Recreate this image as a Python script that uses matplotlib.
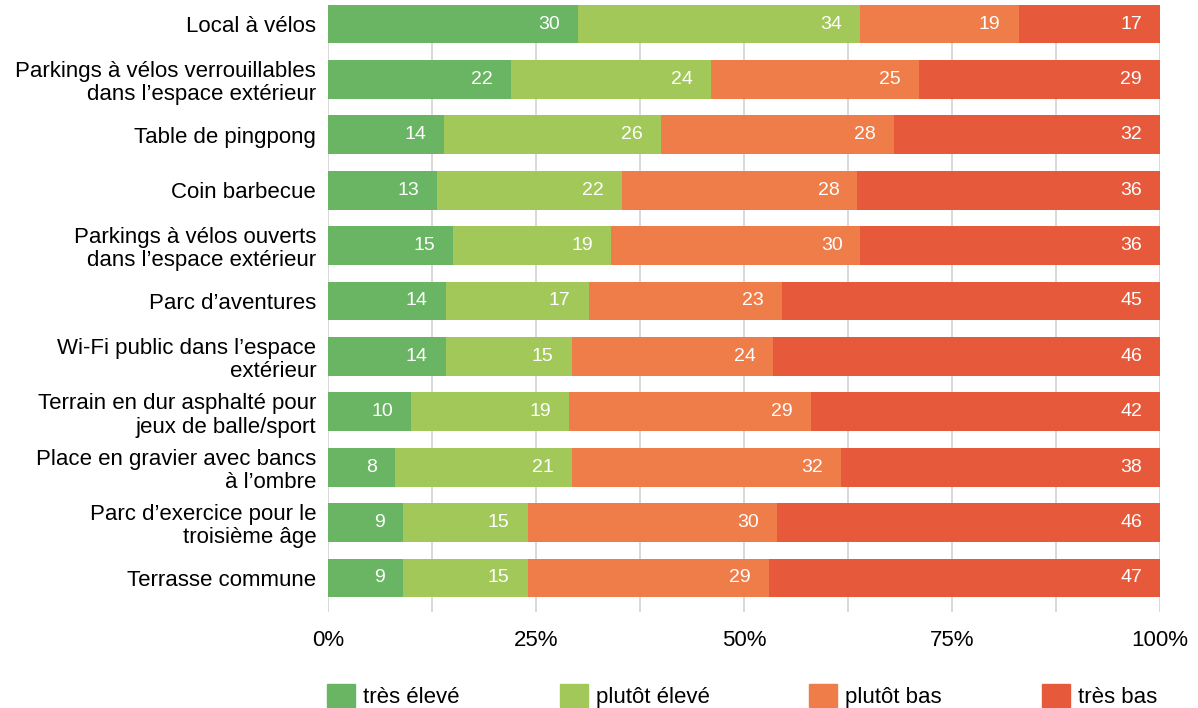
import numpy as np
import matplotlib.pyplot as plt
from matplotlib.patches import Patch

plt.rcParams['font.family'] = ['Liberation Sans', 'DejaVu Sans']

# survey items, top to bottom
items = ["Local à vélos",
         "Parkings à vélos verrouillables\ndans l’espace extérieur",
         "Table de pingpong",
         "Coin barbecue",
         "Parkings à vélos ouverts\ndans l’espace extérieur",
         "Parc d’aventures",
         "Wi-Fi public dans l’espace\nextérieur",
         "Terrain en dur asphalté pour\njeux de balle/sport",
         "Place en gravier avec bancs\nà l’ombre",
         "Parc d’exercice pour le\ntroisième âge",
         "Terrasse commune"]

tres_eleve = [30, 22, 14, 13, 15, 14, 14, 10, 8, 9, 9]
plutot_eleve = [34, 24, 26, 22, 19, 17, 15, 19, 21, 15, 15]
plutot_bas = [19, 25, 28, 28, 30, 23, 24, 29, 32, 30, 29]
tres_bas = [17, 29, 32, 36, 36, 45, 46, 42, 38, 46, 47]

series_names = ["très élevé", "plutôt élevé", "plutôt bas", "très bas"]
colors = ["#6ab563", "#a2c85a", "#ef7d49", "#e65a3b"]

vals = np.array([tres_eleve, plutot_eleve, plutot_bas, tres_bas], dtype=float)
# rounded labels don't always add to 100, bars still fill the row
shares = vals / vals.sum(axis=0) * 100

fig = plt.figure(figsize=(11.98, 7.08), dpi=100)
ax = fig.add_axes([328/1198, 1 - 612/708, 832/1198, 607/708])

y = np.arange(len(items))
left = np.zeros(len(items))
for k in range(4):
    ax.barh(y, shares[k], left=left, height=0.70, color=colors[k], zorder=2)
    for i in range(len(items)):
        ax.annotate(str(int(vals[k, i])), (left[i] + shares[k, i], y[i]),
                    xytext=(-18, 0), textcoords='offset pixels',
                    ha='right', va='center', color='white', fontsize=14)
    left += shares[k]

ax.set_xlim(0, 100)
ax.set_ylim(len(items) - 1 + 0.614, -0.343)
ax.set_yticks(y)
ax.set_yticklabels(items, fontsize=16, linespacing=1.15)
ax.set_xticks([0, 25, 50, 75, 100])
ax.set_xticklabels(["0%", "25%", "50%", "75%", "100%"], fontsize=16)
for xg in np.arange(0, 100.1, 12.5):
    ax.axvline(xg, color="#d2d2d2", lw=1.2, zorder=1)
ax.tick_params(axis='both', length=0)
ax.tick_params(axis='y', pad=8.5)
ax.tick_params(axis='x', pad=13)
for s in ax.spines.values():
    s.set_visible(False)

handles = [Patch(color=c, label=n) for c, n in zip(colors, series_names)]
fig.legend(handles=handles, loc='lower left', bbox_to_anchor=(327/1198, 0.0),
           ncol=4, frameon=False, fontsize=16, handlelength=1.26, handleheight=1.17,
           handletextpad=0.36, columnspacing=4.5, borderpad=0, borderaxespad=0)

plt.savefig("out.png", dpi=100)
